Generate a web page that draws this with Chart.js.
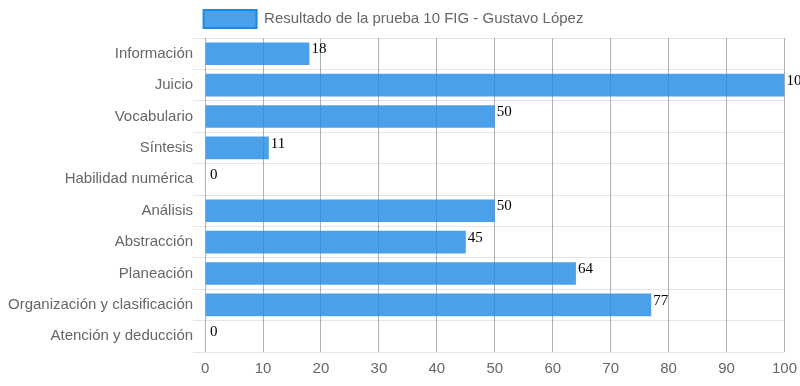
<!DOCTYPE html>
<html>
<head>
<meta charset="utf-8">
<script src="https://cdn.jsdelivr.net/npm/chart.js@4/dist/chart.umd.min.js"></script>
<style>
html,body{margin:0;padding:0;background:#fff;overflow:hidden;}
#outer{width:800px;height:386px;overflow:hidden;position:relative;}
#wrap{width:805px;height:386px;position:relative;}
</style>
</head>
<body>
<div id="outer"><div id="wrap"><canvas id="c"></canvas></div></div>
<script>
const categories = ["Información","Juicio","Vocabulario","Síntesis","Habilidad numérica","Análisis","Abstracción","Planeación","Organización y clasificación","Atención y deducción"];
const seriesName = "Resultado de la prueba 10 FIG - Gustavo López";
const values = [18,100,50,11,0,50,45,64,77,0];
const xTicks = [0,10,20,30,40,50,60,70,80,90,100];

const valueLabels = {
  id: 'valueLabels',
  afterDatasetsDraw(chart) {
    const ctx = chart.ctx;
    ctx.save();
    ctx.font = '15px "Liberation Serif", "DejaVu Serif", serif';
    ctx.fillStyle = '#000';
    ctx.textAlign = 'left';
    ctx.textBaseline = 'alphabetic';
    chart.getDatasetMeta(0).data.forEach((bar, i) => {
      const top = bar.y - bar.height / 2;
      const dx = values[i] === 0 ? 5 : 2;
      ctx.fillText(String(values[i]), bar.x + dx, top + 11);
    });
    ctx.restore();
  }
};

const legendShift = {
  id: 'legendShift',
  afterLayout(chart) {
    if (chart.legend) { chart.legend.left -= 13; chart.legend.right -= 13; }
  }
};

Chart.defaults.font.family = '"Liberation Sans", Arial, sans-serif';
Chart.defaults.font.size = 15;
Chart.defaults.color = '#666';

new Chart(document.getElementById('c'), {
  type: 'bar',
  data: {
    labels: categories,
    datasets: [{
      label: seriesName,
      data: values,
      backgroundColor: 'rgba(30,136,229,0.8)',
      borderColor: 'rgba(30,136,229,1)',
      borderWidth: 0,
      barPercentage: 0.9,
      categoryPercentage: 0.8
    }]
  },
  options: {
    indexAxis: 'y',
    responsive: true,
    maintainAspectRatio: false,
    animation: false,
    layout: { padding: { left: 8, right: 0, top: 0, bottom: 0 } },
    plugins: {
      legend: {
        display: true,
        labels: {
          boxWidth: 53,
          boxHeight: 18,
          padding: 10,
          color: '#666',
          font: { size: 15 },
          generateLabels(chart) {
            return [{
              text: seriesName,
              fillStyle: 'rgba(30,136,229,0.8)',
              strokeStyle: 'rgba(30,136,229,1)',
              fontColor: '#666',
              lineWidth: 2,
              datasetIndex: 0
            }];
          }
        }
      },
      tooltip: { enabled: false }
    },
    scales: {
      x: {
        min: 0,
        max: 100,
        afterBuildTicks(scale) { scale.ticks = xTicks.map(v => ({ value: v })); },
        grid: { color: 'rgba(0,0,0,0.3)', drawTicks: false },
        border: { display: false },
        ticks: { padding: 8, color: '#666', font: { size: 15 } }
      },
      y: {
        grid: { color: 'rgba(0,0,0,0.1)', offset: true, tickLength: 12 },
        border: { display: false },
        ticks: { padding: 0, color: '#666', font: { size: 15 } }
      }
    }
  },
  plugins: [valueLabels, legendShift]
});
</script>
</body>
</html>
